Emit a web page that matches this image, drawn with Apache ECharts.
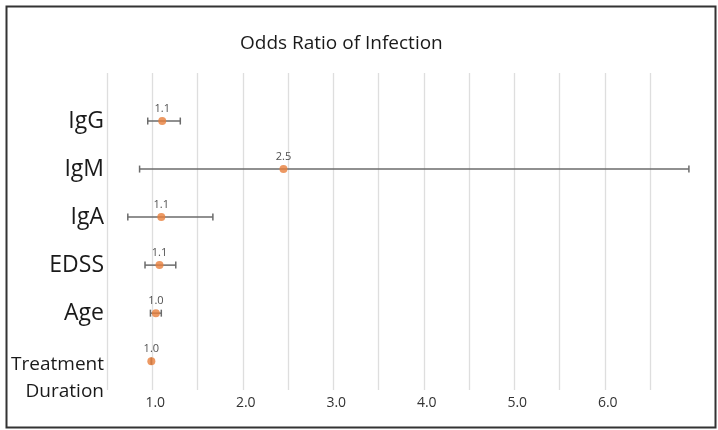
<!DOCTYPE html>
<html>
<head>
<meta charset="utf-8">
<script src="https://cdn.jsdelivr.net/npm/echarts@6/dist/echarts.min.js"></script>
<style>
html,body{margin:0;padding:0;background:#fff;}
#chart{width:718px;height:430px;}
</style>
</head>
<body>
<div id="chart"></div>
<script>
const categories = ['IgG', 'IgM', 'IgA', 'EDSS', 'Age', 'Treatment Duration'];
const oddsRatio = [1.11, 2.45, 1.10, 1.08, 1.04, 0.99];
const ciLow = [0.95, 0.86, 0.73, 0.92, 0.98, 0.99];
const ciHigh = [1.31, 6.93, 1.67, 1.26, 1.10, 0.99];
const xTicks = [1, 2, 3, 4, 5, 6];

const FONT = '"Open Sans", sans-serif';
const chart = echarts.init(document.getElementById('chart'), null, {renderer: 'canvas'});

const pointData = oddsRatio.map((v, i) => [v, i]);
const barData = categories.map((c, i) => [ciLow[i], ciHigh[i], i]);

chart.setOption({
  animation: false,
  backgroundColor: '#ffffff',
  textStyle: {fontFamily: FONT},
  title: {
    text: 'Odds Ratio of Infection',
    left: 235, top: 29,
    textStyle: {fontFamily: FONT, fontSize: 19, fontWeight: 'normal', color: '#1a1a1a'}
  },
  graphic: [{
    type: 'rect', left: 4, top: 4, z: 100, silent: true,
    shape: {width: 709, height: 421},
    style: {fill: 'none', stroke: '#333333', lineWidth: 2}
  }],
  grid: {left: 107, right: 68, top: 73, bottom: 40, containLabel: false},
  xAxis: {
    type: 'value', min: 0.5, max: 6.5, interval: 0.5,
    axisLine: {show: false}, axisTick: {show: false},
    splitLine: {show: true, lineStyle: {color: '#dedede', width: 1.3}},
    axisLabel: {
      margin: 6, fontSize: 14, color: '#333', fontFamily: FONT, padding: [0, 0, 0, 6],
      formatter: v => xTicks.indexOf(v) >= 0 ? v.toFixed(1) : ''
    }
  },
  yAxis: {
    type: 'value', inverse: true, min: -1, max: 5.6, interval: 1,
    axisLine: {show: false}, axisTick: {show: false}, splitLine: {show: false},
    axisLabel: {
      margin: 3, color: '#1a1a1a', fontFamily: FONT, fontSize: 23, lineHeight: 27,
      formatter: v => {
        const i = Math.round(v);
        if (Math.abs(v - i) > 1e-6 || i < 0 || i >= categories.length) return '';
        const name = categories[i];
        if (name.indexOf(' ') > 0) {
          const parts = name.split(' ');
          return '{sp| }\n{a|' + parts[0] + '}\n{a|' + parts[1] + '}';
        }
        return '{m|' + name + '}';
      },
      rich: {
        m: {fontSize: 23, lineHeight: 27, fontFamily: FONT, color: '#1a1a1a'},
        sp: {fontSize: 10, lineHeight: 34, fontFamily: FONT, color: '#ffffff'},
        a: {fontSize: 19, lineHeight: 27, fontFamily: FONT, color: '#1a1a1a'}
      }
    }
  },
  series: [{
    type: 'custom',
    clip: false,
    z: 2,
    data: barData,
    renderItem: function (params, api) {
      const y = api.value(2);
      const p1 = api.coord([api.value(0), y]);
      const p2 = api.coord([api.value(1), y]);
      const h = 3.5;
      const st = {stroke: '#6b6b6b', lineWidth: 1.5};
      return {
        type: 'group',
        children: [
          {type: 'line', shape: {x1: p1[0], y1: p1[1], x2: p2[0], y2: p2[1]}, style: st},
          {type: 'line', shape: {x1: p1[0], y1: p1[1] - h, x2: p1[0], y2: p1[1] + h}, style: st},
          {type: 'line', shape: {x1: p2[0], y1: p2[1] - h, x2: p2[0], y2: p2[1] + h}, style: st}
        ]
      };
    }
  }, {
    type: 'scatter',
    z: 3,
    data: pointData,
    symbol: 'circle',
    symbolSize: 8,
    itemStyle: {color: '#E8803C'},
    label: {
      show: true, position: 'top', distance: 3,
      fontSize: 11, color: '#222', fontFamily: FONT,
      formatter: p => p.value[0].toFixed(1)
    }
  }]
});
</script>
</body>
</html>
